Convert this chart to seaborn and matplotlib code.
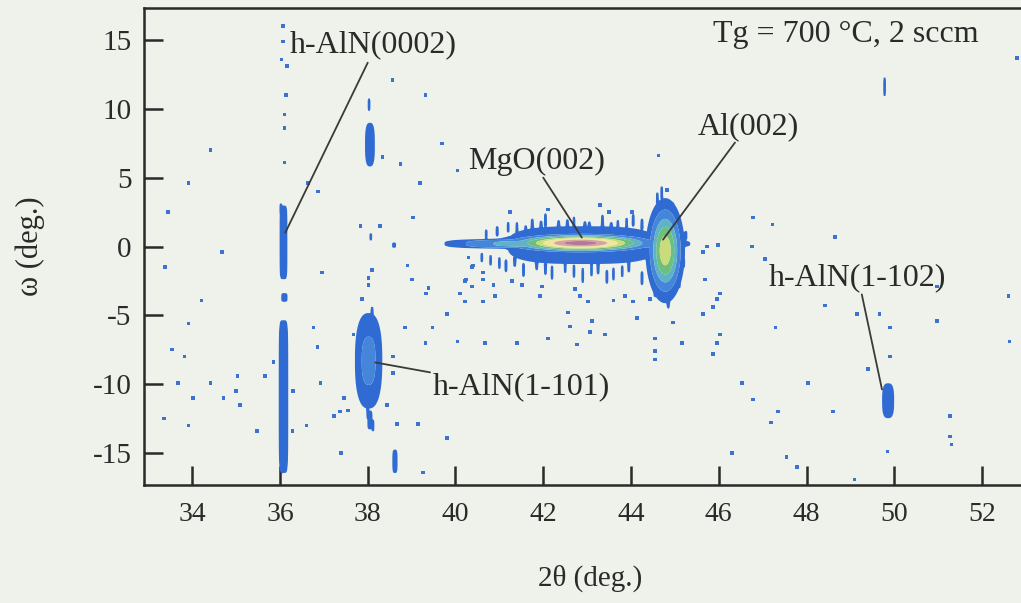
import numpy as np
import pandas as pd
import matplotlib
matplotlib.use("Agg")
import matplotlib.pyplot as plt
import seaborn as sns

# ---- Reciprocal-space map features: 2θ (deg), ω (deg), widths, log-intensity height, shape exponent
peak_names = ["MgO(002) core", "MgO(002) streak", "MgO(002) halo", "Al(002)", "Al(002) wings",
              "AlN(0002) upper", "AlN(0002) lower", "AlN(0002) piece",
              "AlN(1-101)", "AlN(1-101) tail", "38 upper", "38 upper tip",
              "38.6 bottom", "AlN(1-102)", "49.8 upper", "38 small", "38.6 small"]
peak_2theta = [42.85, 42.55, 42.90, 44.78, 44.82, 36.08, 36.08, 36.10, 38.02, 38.05, 38.05, 38.03, 38.62, 49.86, 49.78, 38.07, 38.60]
peak_omega = [0.25, 0.20, 0.10, -0.30, -0.40, 0.30, -10.9, -3.70, -8.30, -12.6, 7.40, 10.3, -15.6, -11.2, 11.6, 0.70, 0.10]
peak_w2theta = [1.05, 2.30, 1.75, 0.26, 0.36, 0.09, 0.11, 0.08, 0.27, 0.07, 0.12, 0.04, 0.07, 0.13, 0.04, 0.04, 0.06]
peak_womega = [0.42, 0.30, 1.40, 2.20, 1.60, 2.70, 5.60, 0.35, 3.00, 0.80, 1.70, 0.60, 1.00, 1.20, 0.80, 0.35, 0.25]
peak_height = [6.4, 3.0, 1.6, 4.5, 1.6, 1.6, 1.6, 1.4, 2.05, 1.3, 1.5, 1.2, 1.3, 1.8, 1.3, 1.2, 1.2]
peak_shape = [2, 4, 3, 2, 3, 6, 6, 4, 2.5, 4, 3, 4, 4, 3, 4, 4, 4]

# short mosaic spikes around the reflections: position and half-length in ω
spike_2theta = [40.70, 40.95, 41.20, 41.40, 41.60, 41.75, 41.95, 42.05, 42.35, 42.55, 42.70, 42.95,
                43.05, 43.35, 43.55, 43.70, 43.90, 44.05, 44.25,
                40.60, 40.80, 41.00, 41.15, 41.35, 41.55, 41.85, 42.05, 42.20, 42.50, 42.70, 42.90,
                43.10, 43.25, 43.45, 43.60, 43.80, 43.95, 44.25,
                44.60, 44.70, 44.95, 44.85, 44.55, 45.20, 45.25, 45.10,
                36.05, 36.12, 36.02, 37.90, 38.18, 37.85, 38.10, 38.00, 38.12]
spike_omega = [0.9, 1.1, 1.4, 1.3, 1.2, 1.6, 1.5, 1.9, 1.5, 1.6, 1.7, 1.5,
               1.4, 1.8, 1.4, 1.5, 1.7, 1.9, 1.6,
               -0.8, -1.0, -1.2, -1.4, -1.1, -1.7, -1.3, -1.6, -1.9, -1.5, -1.8, -2.1,
               -1.7, -1.6, -2.2, -2.0, -1.8, -1.5, -2.3,
               3.5, 3.9, 2.8, -4.0, -3.3, -1.2, 0.8, -2.6,
               -15.8, -7.0, 2.7, -10.5, -9.0, -6.0, -4.8, -12.0, -13.0]
spike_len = [0.40, 0.45, 0.45, 0.55, 0.40, 0.50, 0.45, 0.60, 0.50, 0.45, 0.55, 0.40,
             0.50, 0.60, 0.45, 0.50, 0.45, 0.55, 0.50,
             0.40, 0.45, 0.50, 0.55, 0.45, 0.60, 0.50, 0.55, 0.60, 0.50, 0.55, 0.65,
             0.55, 0.50, 0.60, 0.55, 0.50, 0.45, 0.60,
             0.50, 0.55, 0.50, 0.60, 0.45, 0.40, 0.40, 0.50,
             0.80, 0.70, 0.50, 0.60, 0.70, 0.50, 0.50, 0.60, 0.50]

# isolated counts scattered across the map
dot_2theta = [36.07, 36.07, 36.03, 36.16, 36.14, 36.10, 36.10, 36.10, 34.41, 33.91, 36.64, 36.87, 38.56, 39.31,
              39.69, 38.74, 39.19, 40.04, 38.33, 33.45, 34.68, 33.38, 34.21, 33.91, 33.54, 33.82, 33.68, 34.41,
              34.02, 34.71, 33.36, 33.91, 35.03, 35.00, 35.09, 35.48, 35.66, 35.85, 36.96, 36.92, 36.76, 36.85,
              36.60, 36.30, 36.28, 37.39, 37.46, 37.23, 37.37, 37.55, 37.83, 38.28, 39.03, 38.90, 39.01, 39.38,
              39.33, 39.81, 40.10, 40.24, 40.40, 40.04, 39.47, 39.31, 38.85, 38.58, 38.58, 38.44, 38.67, 39.15,
              39.26, 39.81, 38.10, 38.02, 38.02, 37.87, 37.67, 44.62, 44.82, 41.24, 42.11, 43.29, 43.50, 44.02,
              40.29, 40.38, 40.63, 40.63, 40.22, 40.38, 40.90, 40.86, 41.29, 41.52, 41.97, 40.22, 40.63, 41.93,
              42.56, 42.72, 42.84, 43.02, 42.61, 43.11, 43.41, 43.60, 43.86, 44.05, 44.14, 44.43, 45.69, 45.73,
              45.98, 46.03, 45.87, 40.67, 41.40, 42.11, 42.77, 43.07, 44.55, 46.03, 45.16, 44.96, 46.78, 47.23,
              48.65, 45.64, 46.76, 47.05, 45.96, 45.64, 45.96, 45.87, 47.30, 48.42, 49.15, 49.67, 49.90, 50.97,
              52.63, 49.40, 49.90, 46.53, 48.03, 46.78, 47.35, 47.19, 48.60, 51.27, 51.27, 51.31, 49.85, 46.30,
              47.55, 47.78, 49.10, 52.80, 50.97, 52.60, 44.55, 44.55]
dot_omega = [16.0, 14.9, 13.6, 13.1, 11.0, 9.6, 8.6, 6.1, 7.0, 4.6, 4.6, 4.0, 12.1, 11.0,
             7.5, 6.0, 4.6, 5.5, 6.5, 2.5, -0.4, -1.5, -3.9, -5.6, -7.5, -8.0, -9.9, -9.9,
             -11.0, -11.0, -12.5, -13.0, -9.4, -10.5, -11.5, -13.4, -9.4, -8.4, -1.9, -9.9, -5.9, -7.3,
             -13.0, -10.5, -13.4, -15.0, -11.0, -12.3, -12.0, -11.9, 1.5, 1.5, 2.1, -1.4, -2.4, -3.0,
             -3.4, -4.9, -3.4, -2.4, -1.4, -6.9, -5.9, -7.0, -5.9, -8.0, -9.2, -11.5, -12.9, -12.9,
             -16.4, -13.9, -1.7, -2.3, -2.8, -3.8, -6.4, 6.6, 4.1, 2.5, 2.7, 3.0, 2.5, 2.5,
             -0.8, -1.5, -1.9, -2.4, -2.5, -2.9, -3.6, -2.8, -2.5, -2.8, -2.9, -4.0, -4.0, -3.6,
             -4.8, -3.1, -3.6, -4.0, -5.8, -5.4, -6.4, -3.9, -3.6, -4.0, -5.2, -3.8, -2.4, 0.0,
             0.1, -3.4, -4.4, -7.0, -7.0, -6.7, -7.1, -6.2, -6.7, -6.4, -7.0, -5.5, 2.1, 1.6,
             0.7, -0.4, 0.0, -0.9, -3.8, -4.9, -7.0, -7.8, -5.9, -4.3, -4.9, -4.9, -5.9, -5.4,
             -6.9, -8.9, -8.0, -9.9, -9.9, -11.1, -12.0, -12.8, -12.0, -12.3, -13.8, -14.4, -14.9, -15.0,
             -15.3, -16.0, -16.9, 13.7, -2.9, -3.6, -7.6, -8.2]

# contour levels of log intensity and their fill colours
level_bounds = [1.0, 1.8, 2.6, 3.3, 4.0, 4.6, 5.4, 6.0, 99.0]
level_colors = ["#2f6bd2", "#4585da", "#5fb3c6", "#6cbf7c", "#c8dc7c", "#efe6a0", "#d8a0a0", "#b07a96"]

# reflection labels and their leader lines
label_text = ["h-AlN(0002)", "MgO(002)", "Al(002)", "h-AlN(1-101)", "h-AlN(1-102)"]
label_2theta = [36.23, 41.84, 46.67, 39.47, 49.15]
label_omega = [14.66, 6.17, 8.70, -10.16, -2.25]
label_ha = ["left", "center", "center", "left", "center"]
lead_start_2theta = [38.00, 42.00, 46.37, 39.42, 49.26]
lead_start_omega = [13.35, 5.00, 7.55, -9.14, -3.48]
lead_end_2theta = [36.12, 42.88, 44.73, 38.17, 49.72]
lead_end_omega = [1.00, 0.65, 0.50, -8.42, -10.38]

condition_text = "Tg = 700 °C, 2 sccm"
x_ticks = [34, 36, 38, 40, 42, 44, 46, 48, 50, 52]
y_ticks = [-15, -10, -5, 0, 5, 10, 15]

# ---- style
bg = "#eef2ea"
ink = "#2a2a2a"
sns.set_theme(style="ticks")
plt.rcParams["font.family"] = ["Liberation Serif", "DejaVu Serif"]

fig = plt.figure(figsize=(10.21, 6.03), dpi=100, facecolor=bg)
ax = fig.add_axes([0.1410, 0.1957, 0.8638, 0.7910])
ax.set_facecolor(bg)
ax.set_xlim(32.9, 53.0)
ax.set_ylim(-17.32, 17.32)

# ---- intensity map on the measurement grid
tt = np.arange(32.9, 53.0, 0.02)
om = np.arange(-17.3, 17.31, 0.08)
TT, OM = np.meshgrid(tt, om)
logI = np.zeros_like(TT)


def peak_profile(c2t, com, s2t, som, h, p):
    """Separable generalised-Gaussian peak (p = 2 is a plain Gaussian)."""
    u = np.abs((TT - c2t) / s2t) ** p + np.abs((OM - com) / som) ** p
    return h * np.exp(-0.5 * u)


for c2t, com, s2t, som, h, p in zip(peak_2theta, peak_omega, peak_w2theta,
                                     peak_womega, peak_height, peak_shape):
    logI = np.maximum(logI, peak_profile(c2t, com, s2t, som, h, p))
for c2t, com, half in zip(spike_2theta, spike_omega, spike_len):
    logI = np.maximum(logI, peak_profile(c2t, com, 0.04, half, 1.3, 4))

ax.contourf(TT, OM, logI, levels=level_bounds, colors=level_colors, antialiased=True, zorder=2)

dots = pd.DataFrame({"2theta": dot_2theta, "omega": dot_omega})
sns.scatterplot(data=dots, x="2theta", y="omega", marker="s", s=6, color="#3a74d0",
                edgecolor="none", linewidth=0, ax=ax, zorder=3, legend=False)

# ---- labels with leader lines
for x0, y0, x1, y1 in zip(lead_start_2theta, lead_start_omega, lead_end_2theta, lead_end_omega):
    ax.annotate("", xy=(x1, y1), xytext=(x0, y0),
                arrowprops=dict(arrowstyle="-", color="#3a3a3a", lw=1.3,
                                shrinkA=0, shrinkB=0), zorder=4)
for txt, x, y, ha in zip(label_text, label_2theta, label_omega, label_ha):
    ax.text(x, y, txt, ha=ha, va="center", fontsize=23, color=ink, zorder=5)
ax.text(45.87, 15.4, condition_text, ha="left", va="center", fontsize=23, color=ink, zorder=5)

# ---- axes
ax.set_xticks(x_ticks)
ax.set_yticks(y_ticks)
ax.set_xticklabels([str(v) for v in x_ticks], fontsize=20, color=ink)
ax.set_yticklabels([str(v) for v in y_ticks], fontsize=21, color=ink)
ax.tick_params(axis="both", direction="in", length=14, width=1.8, color=ink,
               top=False, right=False)
ax.tick_params(axis="x", pad=12)
ax.tick_params(axis="y", pad=9)
for side in ["left", "bottom", "top", "right"]:
    ax.spines[side].set_color(ink)
    ax.spines[side].set_linewidth(1.8)
    ax.spines[side].set_visible(True)

ax.set_xlabel("2θ (deg.)", fontsize=21, color=ink)
ax.set_ylabel("ω (deg.)", fontsize=22, color=ink)
ax.xaxis.set_label_coords(0.506, -0.168)
ax.yaxis.set_label_coords(-0.112, 0.5)

fig.savefig("out.png", dpi=100, facecolor=bg)
